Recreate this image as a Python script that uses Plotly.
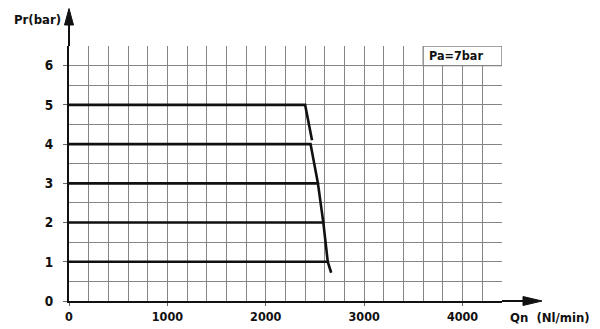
import plotly.graph_objects as go

# Regulator flow characteristics at inlet pressure Pa = 7 bar
pressures = [5, 4, 3, 2, 1]                       # set outlet pressure Pr (bar)
knee_flow = [2400, 2455, 2530, 2585, 2630]        # flow where the curve starts to droop (Nl/min)
end_flow = [2470, 2530, 2585, 2630, 2665]         # flow at end of drooping segment (Nl/min)
end_pressure = [4.1, 3.0, 2.0, 1.0, 0.72]         # pressure at end of drooping segment (bar)

x_tick_vals = [0, 1000, 2000, 3000, 4000]
x_tick_text = ["0", "1000", "2000", "3000", "4000"]
y_tick_vals = [0, 1, 2, 3, 4, 5, 6]
y_tick_text = ["0", "1", "2", "3", "4", "5", "6"]

X_MAX, Y_MAX = 4400, 6.5
GRID = "#858585"
FONT = "DejaVu Sans Condensed, Roboto Condensed, Roboto, sans-serif"

fig = go.Figure()
for p, kf, ef, ep in zip(pressures, knee_flow, end_flow, end_pressure):
    fig.add_trace(go.Scatter(
        x=[0, kf, ef], y=[p, p, ep], mode="lines",
        line=dict(color="#111111", width=2.6), showlegend=False,
        hoverinfo="skip", cliponaxis=False,
    ))

W, H = 600, 329
L, R, T, B = 69, 98, 46, 28
pw, ph = W - L - R, H - T - B


def px(xp):
    return (xp - L) / pw


def py(yp):
    return (H - B - yp) / ph


shapes = [
    # y axis extension and arrow head
    dict(type="line", xref="paper", yref="paper", x0=0, x1=0, y0=1, y1=py(14),
         line=dict(color="#111111", width=2)),
    dict(type="path", xref="paper", yref="paper",
         path=f"M {px(64.5)},{py(25)} L 0,{py(8.5)} L {px(73.5)},{py(25)} Z",
         fillcolor="#111111", line=dict(color="#111111", width=1)),
    # x axis extension and arrow head
    dict(type="line", xref="paper", yref="paper", x0=1, x1=px(530), y0=0, y1=0,
         line=dict(color="#111111", width=2)),
    dict(type="path", xref="paper", yref="paper",
         path=f"M {px(523)},{py(296.5)} L {px(542)},0 L {px(523)},{py(305.5)} Z",
         fillcolor="#111111", line=dict(color="#111111", width=1)),
    # inlet pressure label cell
    dict(type="rect", xref="x", yref="y", x0=3600, x1=4400, y0=6, y1=6.5,
         fillcolor="white", line=dict(color=GRID, width=1.3), layer="above"),
]

annotations = [
    dict(text="Pa=7bar", x=3930, y=6.25, xref="x", yref="y", showarrow=False,
         xanchor="center", yanchor="middle",
         font=dict(family=FONT, size=12.5, color="#111111", weight="bold")),
    dict(text="Pr(bar)", x=px(37), y=py(20), xref="paper", yref="paper", showarrow=False,
         xanchor="center", yanchor="middle",
         font=dict(family=FONT, size=13, color="#111111", weight="bold")),
    dict(text="Qn  (Nl/min)", x=px(550), y=py(317.5), xref="paper", yref="paper",
         showarrow=False, xanchor="center", yanchor="middle",
         font=dict(family=FONT, size=13, color="#111111", weight="bold")),
]

fig.update_layout(
    width=W, height=H, margin=dict(l=L, r=R, t=T, b=B, autoexpand=False),
    paper_bgcolor="white", plot_bgcolor="white",
    shapes=shapes, annotations=annotations,
    xaxis=dict(
        range=[0, X_MAX + 1], tickvals=x_tick_vals, ticktext=x_tick_text,
        showgrid=True, gridcolor=GRID, gridwidth=1.3,
        minor=dict(dtick=200, showgrid=True, gridcolor=GRID, gridwidth=1.3),
        showline=True, linecolor="#111111", linewidth=2,
        ticks="outside", ticklen=3, tickcolor="#666666", tickwidth=1,
        tickfont=dict(family=FONT, size=12.5, color="#111111", weight="bold"),
        zeroline=False, fixedrange=True, automargin=False,
    ),
    yaxis=dict(
        range=[0, Y_MAX + 0.002], tickvals=y_tick_vals, ticktext=y_tick_text,
        showgrid=True, gridcolor=GRID, gridwidth=1.3,
        minor=dict(dtick=0.5, showgrid=True, gridcolor=GRID, gridwidth=1.3),
        showline=True, linecolor="#111111", linewidth=2,
        ticks="outside", ticklen=4, tickcolor="#666666", tickwidth=1.3,
        ticklabelstandoff=7,
        tickfont=dict(family=FONT, size=13.5, color="#111111", weight="bold"),
        zeroline=False, fixedrange=True, automargin=False,
    ),
)

fig.write_html("out.html")
